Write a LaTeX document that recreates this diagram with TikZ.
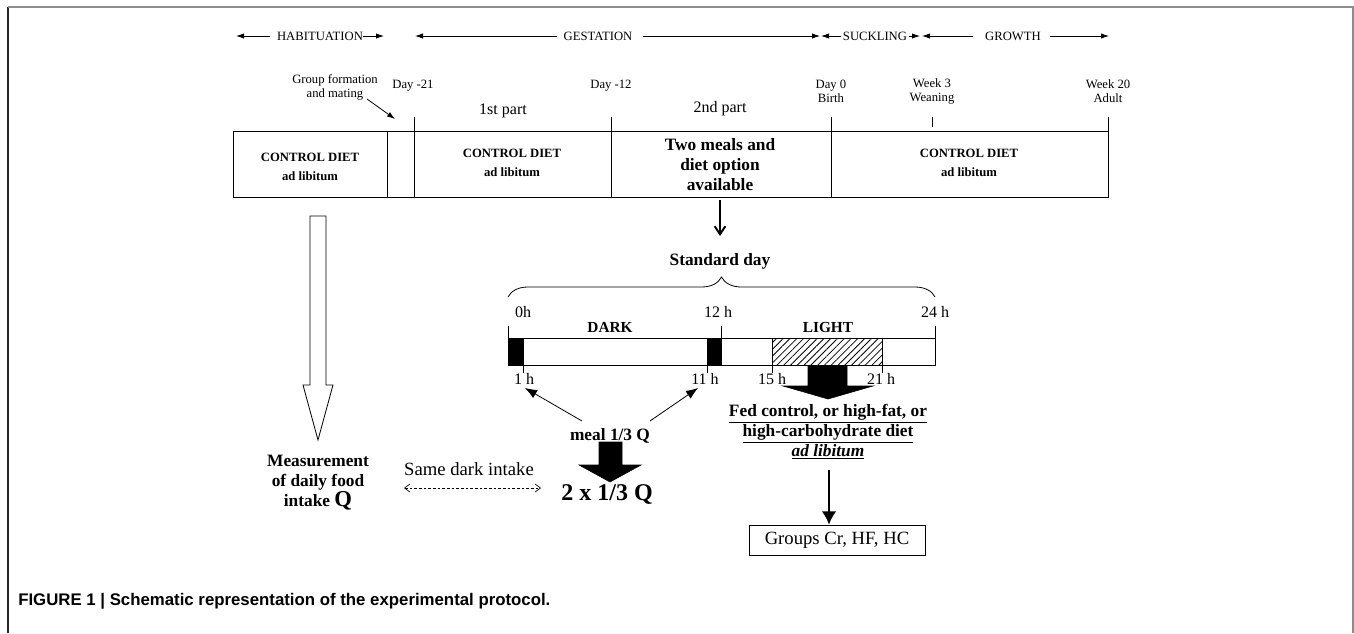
\documentclass[tikz,border=0pt]{standalone}
\usepackage{fontspec}
\setmainfont{Liberation Serif}
\newfontfamily\capfont{Liberation Sans}
\usetikzlibrary{arrows.meta,decorations.pathreplacing,patterns.meta}
\begin{document}
\begin{tikzpicture}[x=0.75pt,y=-0.75pt,
  txt/.style={inner sep=0pt, align=center},
  toplab/.style={txt, font=\fontsize{9.5}{10}\selectfont},
  daylab/.style={txt, font=\fontsize{9.5}{10.5}\selectfont},
  partlab/.style={txt, font=\fontsize{12}{14}\selectfont},
  dietlab/.style={txt, font=\bfseries\fontsize{9.5}{14}\selectfont},
  hlab/.style={txt, font=\fontsize{12}{13}\selectfont},
  boldlab/.style={txt, font=\bfseries\fontsize{13}{15}\selectfont},
  tarr/.style={draw, line width=0.6pt, -{Latex[length=6pt,width=4pt]}},
  thin/.style={line width=0.6pt},
  blackarrow/.style={fill=black, draw=black, line width=0.4pt},
]
\useasboundingbox (0,0) rectangle (1354,633);
% frame
\draw[line width=1.1pt, black!85] (8,633) -- (8,7);
\draw[line width=1.1pt, black!45] (8,7) -- (1353,7) -- (1353,633);

% ---- top phase labels ----
\node[toplab] (hab) at (320,36) {HABITUATION};
\coordinate (habL) at (236,36); \coordinate (habLs) at (270,36);
\coordinate (habR) at (384,36); \coordinate (habRs) at (363,36);
\draw[tarr] (habLs) -- (habL);
\draw[tarr] (habRs) -- (habR);

\node[toplab] (gest) at (598,36) {GESTATION};
\coordinate (gestL) at (415,36); \coordinate (gestLs) at (557,36);
\coordinate (gestR) at (820,36); \coordinate (gestRs) at (643,36);
\draw[tarr] (gestLs) -- (gestL);
\draw[tarr] (gestRs) -- (gestR);

\node[toplab] (suck) at (875,36) {SUCKLING};
\coordinate (suckL) at (821,36); \coordinate (suckLs) at (841,36);
\coordinate (suckR) at (920,36); \coordinate (suckRs) at (909,36);
\draw[tarr] (suckLs) -- (suckL);
\draw[tarr] (suckRs) -- (suckR);

\node[toplab] (grow) at (1013,36) {GROWTH};
\coordinate (growL) at (922,36); \coordinate (growLs) at (973,36);
\coordinate (growR) at (1109,36); \coordinate (growRs) at (1050,36);
\draw[tarr] (growLs) -- (growL);
\draw[tarr] (growRs) -- (growR);

% ---- time labels ----
\node[daylab] (grp) at (335,87) {Group formation\\and mating};
\node[daylab] (d21) at (413,86) {Day -21};
\node[daylab] (d12) at (611,86) {Day -12};
\node[partlab] (p1) at (503,111) {1st part};
\node[partlab] (p2) at (720,109) {2nd part};
\node[daylab] (d0) at (831,91) {Day 0\\Birth};
\node[daylab] (w3) at (932,91) {Week 3\\Weaning};
\node[daylab] (w20) at (1108,91) {Week 20\\Adult};
\coordinate (grpS) at (367,99); \coordinate (mate) at (395,119);
\draw[tarr] (grpS) -- (mate);

% ticks
\draw[thin] (414,117) -- (414,131);
\draw[thin] (611,117) -- (611,131);
\draw[thin] (831,117) -- (831,131);
\draw[thin] (932,117) -- (932,127);
\draw[thin] (1108,117) -- (1108,131);

% ---- main box ----
\draw[thin] (233,131) rectangle (1108,197);
\draw[thin] (387,131) -- (387,197);
\draw[thin] (414,131) -- (414,197);
\draw[thin] (611,131) -- (611,197);
\draw[thin] (831,131) -- (831,197);
\node[dietlab] (cd1) at (310,167) {CONTROL DIET\\ad libitum};
\node[dietlab] (cd2) at (512,163) {CONTROL DIET\\ad libitum};
\node[txt, font=\bfseries\fontsize{13}{15}\selectfont] (two) at (720,165) {Two meals and\\diet option\\available};
\node[dietlab] (cd3) at (969,163) {CONTROL DIET\\ad libitum};

% arrow to standard day
\coordinate (twoS) at (720,200);
\node[txt, font=\bfseries\fontsize{13}{14}\selectfont] (std) at (720,261) {Standard day};
\draw[line width=1.5pt, -{Straight Barb[length=6pt,width=8pt]}] (twoS) -- (720,236);

% brace
\draw[thin, decorate, decoration={brace, amplitude=15pt, aspect=0.5}] (508,297) -- (935,297);

% ---- day bar ----
\node[hlab] (h0) at (523,312) {0h};
\node[hlab] (h12) at (718,312) {12 h};
\node[hlab] (h24) at (935,312) {24 h};
\node[txt, font=\bfseries\fontsize{11.5}{12}\selectfont] (dark) at (610,327) {DARK};
\node[txt, font=\bfseries\fontsize{11.5}{12}\selectfont] (light) at (828,327) {LIGHT};
\draw[thin] (508,326) -- (508,338);
\draw[thin] (721,326) -- (721,338);
\draw[thin] (935,326) -- (935,338);
\fill[pattern={Lines[angle=45,distance=3.6pt,line width=0.6pt]}] (772,338) rectangle (882,365);
\draw[thin] (508,338) rectangle (935,365);
\draw[thin, fill=black] (508,338) rectangle (523,365);
\draw[thin, fill=black] (707,338) rectangle (721,365);
\draw[thin] (772,338) rectangle (882,365);
\draw[thin] (523,365) -- (523,373);
\draw[thin] (707,365) -- (707,373);
\draw[thin] (772,365) -- (772,373);
\draw[thin] (882,365) -- (882,373);
\node[hlab] (h1) at (524,379) {1 h};
\node[hlab] (h11) at (705,379) {11 h};
\node[hlab] (h15) at (772,379) {15 h};
\node[hlab] (h21) at (881,379) {21 h};

% black arrow under hatch
\fill[blackarrow] (808,366) -- (847,366) -- (847,386) -- (873,386) -- (828,399) -- (783,386) -- (808,386) -- cycle;

% meal arrows
\node[boldlab] (meal) at (610,436) {meal 1/3 Q};
\coordinate (mealL) at (582,421); \coordinate (mealR) at (650,421);
\coordinate (t1) at (525,388); \coordinate (t11) at (698,388);
\draw[line width=0.6pt, -{Latex[length=9pt,width=7pt]}] (mealL) -- (t1);
\draw[line width=0.6pt, -{Latex[length=9pt,width=7pt]}] (mealR) -- (t11);

% black arrow under meal
\fill[blackarrow] (599,442) -- (622,442) -- (622,465) -- (641,465) -- (610,482) -- (579,465) -- (599,465) -- cycle;
\node[txt, font=\bfseries\fontsize{18}{20}\selectfont] (twothird) at (607,494) {2 x 1/3 Q};

% open arrow on left
\draw[thin] (310,216) -- (326,216) -- (326,385) -- (333,385) -- (318,440) -- (303,385) -- (310,385) -- cycle;

\node[boldlab] (meas) at (318,483) {Measurement\\of daily food\\intake {\fontsize{17}{15}\selectfont Q}};
\node[txt, font=\fontsize{14}{16}\selectfont] (same) at (469,469) {Same dark intake};
\coordinate (dL) at (404,488); \coordinate (dR) at (541,488);
\draw[line width=0.5pt, dash pattern=on 2pt off 1.5pt, {Straight Barb[length=4pt,width=6pt]}-{Straight Barb[length=4pt,width=6pt]}] (dL) -- (dR);

% fed control
\node[txt, font=\bfseries\fontsize{13}{15}\selectfont] (fed) at (828,432) {\underline{Fed control, or high-fat, or}\\\underline{high-carbohydrate diet}\\\underline{\itshape ad libitum}};
\node[draw, thin, minimum width=132pt, minimum height=22.5pt, inner sep=0pt, font=\fontsize{14}{16}\selectfont] (groups) at (837,540) {Groups Cr, HF, HC};
\coordinate (fedS) at (829,470);
\draw[line width=1.4pt, -{Latex[length=10pt,width=11pt]}] (fedS) -- (groups.north -| fedS);

% caption
\node[anchor=west, inner sep=0pt, font=\capfont\bfseries\fontsize{12.6}{14}\selectfont] (cap) at (18,601) {FIGURE 1 | Schematic representation of the experimental protocol.};
\end{tikzpicture}
\end{document}
